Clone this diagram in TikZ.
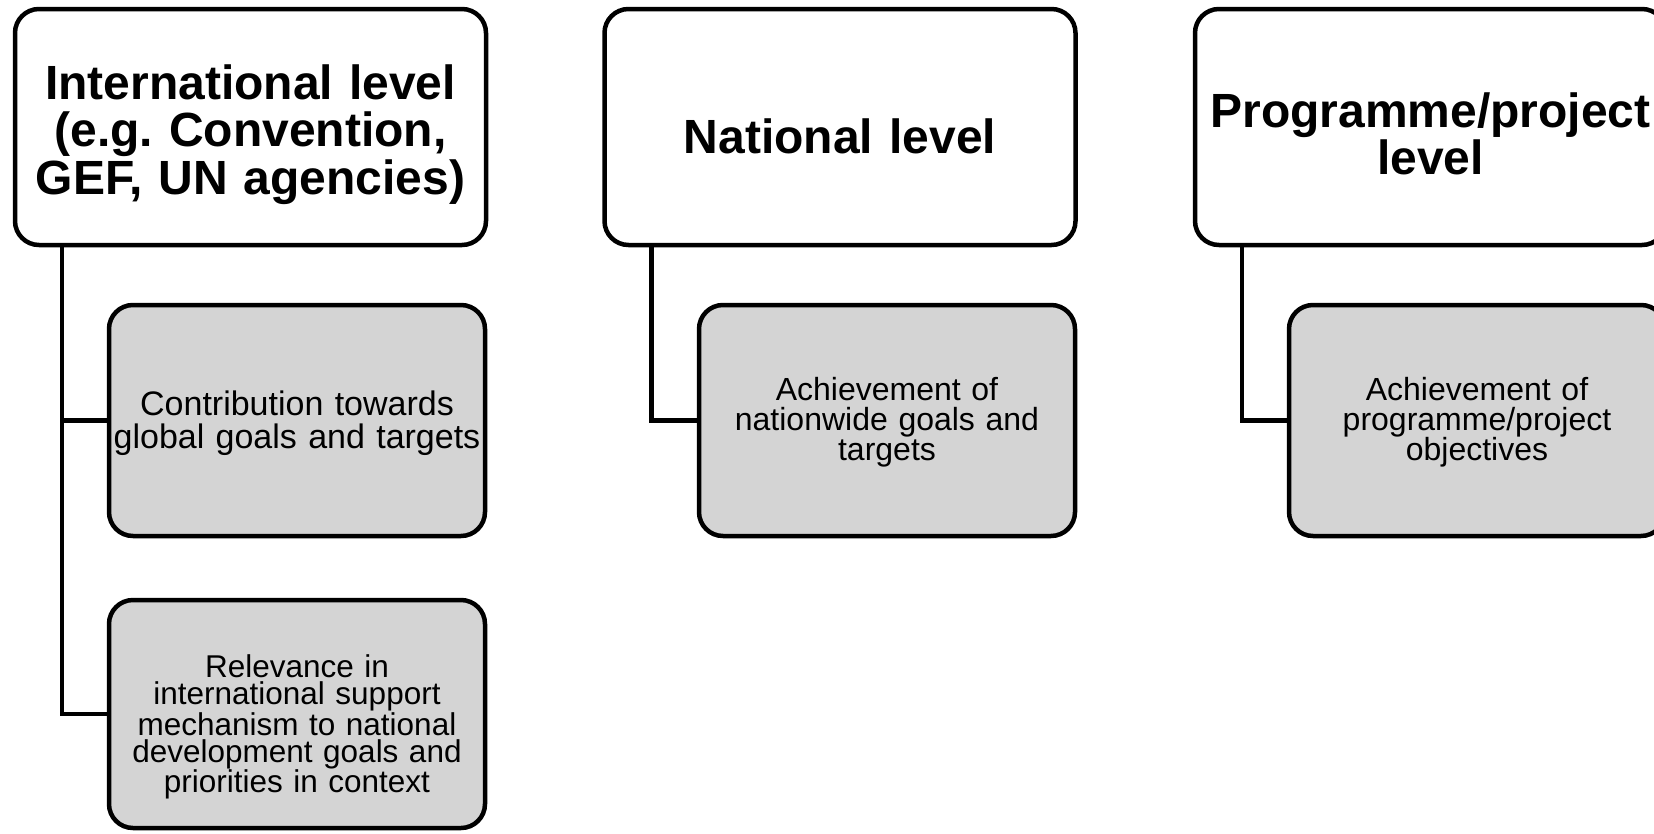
\documentclass[tikz,border=0pt]{standalone}
\usepackage{fontspec}
\setmainfont{Liberation Sans}
\frenchspacing
\definecolor{goalgray}{RGB}{212,212,212}
\tikzset{
  levelbox/.style={draw, line width=4.5pt, rounded corners=24pt, fill=white,
    minimum width=471pt, minimum height=236pt, text width=462pt, align=center,
    inner sep=0pt, outer sep=0pt, font=\bfseries\fontsize{48}{47.5}\selectfont},
  goalbox/.style={draw, line width=4.5pt, rounded corners=24pt, fill=goalgray,
    minimum width=376pt, minimum height=231pt, text width=368pt, align=center,
    inner sep=0pt, outer sep=0pt, font=\fontsize{32}{30}\selectfont},
  drop/.style={execute at begin node={\rule{0pt}{#1}}},
  link/.style={line width=4.5pt}
}

\begin{document}
\begin{tikzpicture}[x=1pt, y=-1pt]
\useasboundingbox (0,0) rectangle (1654,833);
\clip (0,0) rectangle (1654,833);
% levels
\node[levelbox, drop=50pt] (intl) at (250.5,127) {International level\\(e.g. Convention,\\GEF, UN agencies)};
\node[levelbox, drop=53pt] (natl) at (840,127) {National level};
\node[levelbox, drop=48pt] (prog) at (1430.5,127) {Programme/project\\level};
% goals under each level
\node[goalbox, drop=31pt, font=\fontsize{34}{33}\selectfont] (contrib) at (297,420.5) {Contribution towards\\global goals and targets};
\node[goalbox, drop=49pt, minimum height=228pt, font=\fontsize{31.5}{27}\selectfont] (relev) at (297,714) {Relevance in\\international support\\mechanism to national\\development goals and\\priorities in context};
\node[goalbox, drop=27.5pt] (natgoal) at (887,420.5) {Achievement of\\nationwide goals and\\targets};
\node[goalbox, drop=27.5pt] (proggoal) at (1477,420.5) {Achievement of\\programme/project\\objectives};
% connectors
\draw[link] ([xshift=47pt]intl.south west) |- (contrib.west);
\draw[link] ([xshift=47pt]intl.south west) |- (relev.west);
\draw[link] ([xshift=47pt]natl.south west) |- (natgoal.west);
\draw[link] ([xshift=47pt]prog.south west) |- (proggoal.west);
\end{tikzpicture}
\end{document}
